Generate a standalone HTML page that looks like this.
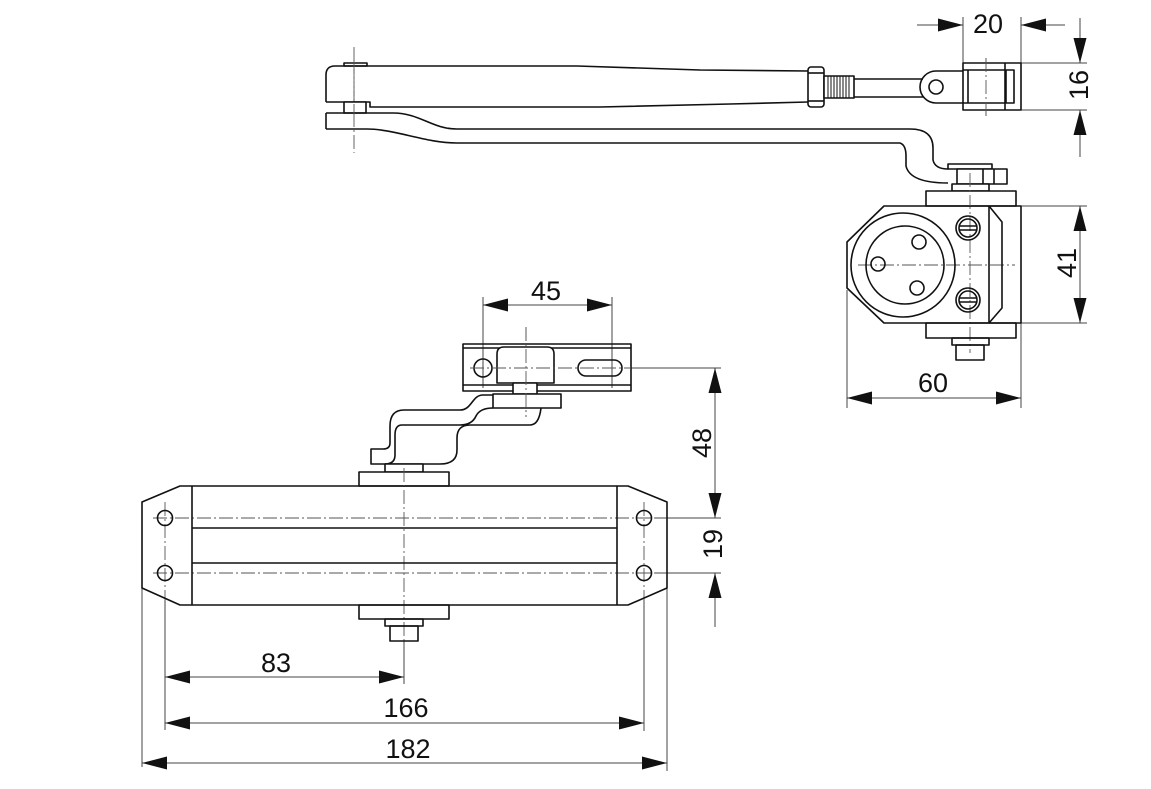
<!DOCTYPE html>
<html><head><meta charset="utf-8"><style>
html,body{margin:0;padding:0;background:#fff;}
svg{display:block;}
text{font-family:"Liberation Sans",Arial,sans-serif;font-size:27px;fill:#111;}
</style></head><body>
<svg width="1151" height="789" viewBox="0 0 1151 789" xmlns="http://www.w3.org/2000/svg">
<rect width="1151" height="789" fill="#fff"/>

<!-- ===== centerlines (dash-dot) ===== -->
<g stroke="#555" stroke-width="0.9" fill="none" stroke-dasharray="14 3 2 3">
  <line x1="354" y1="47" x2="354" y2="153"/>
  <line x1="986" y1="58" x2="986" y2="118"/>
  <line x1="970" y1="173" x2="970" y2="353"/>
  <line x1="858" y1="265" x2="1015" y2="265"/>
  <line x1="526" y1="327" x2="526" y2="417"/>
  <line x1="470" y1="368" x2="631" y2="368"/>
  <line x1="404" y1="468" x2="404" y2="641"/>
  <line x1="153" y1="518" x2="655" y2="518"/>
  <line x1="153" y1="573" x2="655" y2="573"/>
  <line x1="165" y1="502" x2="165" y2="600"/>
  <line x1="644" y1="502" x2="644" y2="600"/>
</g>

<!-- ===== extension & dimension lines ===== -->
<g stroke="#444" stroke-width="1" fill="none">
  <!-- 20 -->
  <line x1="963" y1="17" x2="963" y2="63"/>
  <line x1="1021" y1="17" x2="1021" y2="63"/>
  <line x1="917" y1="25" x2="963" y2="25"/>
  <line x1="1021" y1="25" x2="1065" y2="25"/>
  <!-- 16 -->
  <line x1="1021" y1="63" x2="1087" y2="63"/>
  <line x1="1021" y1="110" x2="1087" y2="110"/>
  <line x1="1080" y1="18" x2="1080" y2="63"/>
  <line x1="1080" y1="110" x2="1080" y2="157"/>
  <!-- 41 -->
  <line x1="1021" y1="206" x2="1087" y2="206"/>
  <line x1="1021" y1="323" x2="1087" y2="323"/>
  <line x1="1080" y1="206" x2="1080" y2="323"/>
  <!-- 60 -->
  <line x1="847" y1="290" x2="847" y2="408"/>
  <line x1="1021" y1="323" x2="1021" y2="408"/>
  <line x1="847" y1="398" x2="1021" y2="398"/>
  <!-- 45 -->
  <line x1="483" y1="297" x2="483" y2="388"/>
  <line x1="612" y1="297" x2="612" y2="388"/>
  <line x1="483" y1="305" x2="612" y2="305"/>
  <!-- 48 / 19 -->
  <line x1="631" y1="368" x2="721" y2="368"/>
  <line x1="715" y1="368" x2="715" y2="518"/>
  <line x1="655" y1="518" x2="721" y2="518"/>
  <line x1="655" y1="573" x2="721" y2="573"/>
  <line x1="715" y1="573" x2="715" y2="627"/>
  <!-- bottom -->
  <line x1="404" y1="641" x2="404" y2="684"/>
  <line x1="165" y1="600" x2="165" y2="730"/>
  <line x1="644" y1="600" x2="644" y2="731"/>
  <line x1="142" y1="588" x2="142" y2="767"/>
  <line x1="667" y1="588" x2="667" y2="771"/>
  <line x1="165" y1="677" x2="404" y2="677"/>
  <line x1="165" y1="723" x2="644" y2="723"/>
  <line x1="142" y1="763" x2="667" y2="763"/>
</g>

<!-- ===== arrowheads ===== -->
<g fill="#111" stroke="none">
  <polygon points="963,25 938,18.5 938,31.5"/>
  <polygon points="1021,25 1046,18.5 1046,31.5"/>
  <polygon points="1080,63 1073.5,38 1086.5,38"/>
  <polygon points="1080,110 1073.5,135 1086.5,135"/>
  <polygon points="1080,206 1073.5,231 1086.5,231"/>
  <polygon points="1080,323 1073.5,298 1086.5,298"/>
  <polygon points="847,398 872,391.5 872,404.5"/>
  <polygon points="1021,398 996,391.5 996,404.5"/>
  <polygon points="483,305 508,298.5 508,311.5"/>
  <polygon points="612,305 587,298.5 587,311.5"/>
  <polygon points="715,368 708.5,393 721.5,393"/>
  <polygon points="715,518 708.5,493 721.5,493"/>
  <polygon points="715,573 708.5,598 721.5,598"/>
  <polygon points="165,677 190,670.5 190,683.5"/>
  <polygon points="404,677 379,670.5 379,683.5"/>
  <polygon points="165,723 190,716.5 190,729.5"/>
  <polygon points="644,723 619,716.5 619,729.5"/>
  <polygon points="142,763 167,756.5 167,769.5"/>
  <polygon points="667,763 642,756.5 642,769.5"/>
</g>

<!-- ===== outlines ===== -->
<g stroke="#111" stroke-width="1.6" fill="none" stroke-linejoin="round">
  <!-- upper arm -->
  <rect x="344" y="63" width="23" height="3" fill="#fff"/>
  <path d="M326,102 L326,75 Q326,66 335,66 L577,66 L700,70 L808,71"/>
  <path d="M326,102 L370,102 L370,107 L600,107 L730,104 L808,102"/>
  <rect x="344" y="102" width="22" height="11" fill="#fff"/>
  <!-- lower arm -->
  <path d="M326,113 L326,129"/>
  <path d="M326,113 L393,113 C420,113 432,129 457,129 L910,129 Q933,129 933,148 L933,160 Q935,169 948,169"/>
  <path d="M326,129 L367,129 C395,129 425,143 457,143 L900,143 Q906,145 906,156 L906,166 Q910,183 948,183"/>
  <!-- nut + thread + rod -->
  <rect x="808" y="67" width="16" height="40" rx="3" fill="#fff"/>
  <line x1="808" y1="73" x2="824" y2="73"/>
  <line x1="808" y1="101" x2="824" y2="101"/>
  <rect x="824" y="76" width="30" height="22" fill="#fff"/>
  <g stroke-width="1">
    <line x1="828" y1="76" x2="828" y2="98"/><line x1="831" y1="76" x2="831" y2="98"/>
    <line x1="834" y1="76" x2="834" y2="98"/><line x1="837" y1="76" x2="837" y2="98"/>
    <line x1="840" y1="76" x2="840" y2="98"/><line x1="843" y1="76" x2="843" y2="98"/>
    <line x1="846" y1="76" x2="846" y2="98"/><line x1="849" y1="76" x2="849" y2="98"/>
  </g>
  <line x1="854" y1="79" x2="923" y2="79"/>
  <line x1="854" y1="97" x2="923" y2="97"/>
  <path d="M963,71 L936,71 A16,16 0 0 0 936,103 L963,103"/>
  <circle cx="936" cy="87" r="7"/>
  <!-- clevis -->
  <rect x="963" y="63" width="58" height="47" fill="#fff"/>
  <line x1="963" y1="70" x2="1005" y2="70"/>
  <line x1="963" y1="103" x2="1005" y2="103"/>
  <line x1="968" y1="70" x2="968" y2="103"/>
  <line x1="1005" y1="63" x2="1005" y2="110"/>
  <rect x="1006" y="70" width="8" height="33"/>

  <!-- right body top view -->
  <rect x="948" y="164" width="44" height="5" fill="#fff"/>
  <rect x="957" y="169" width="50" height="15" fill="#fff"/>
  <line x1="983" y1="169" x2="983" y2="184"/>
  <line x1="994" y1="169" x2="994" y2="184"/>
  <rect x="952" y="184" width="37" height="7" fill="#fff"/>
  <rect x="926" y="191" width="90" height="15" fill="#fff"/>
  <polygon points="884,206 1021,206 1021,323 884,323 847,288 847,242"/>
  <line x1="989" y1="206" x2="989" y2="323"/>
  <polyline points="989,206 1002,222 1002,308 989,323"/>
  <circle cx="903" cy="265" r="52"/>
  <circle cx="905" cy="265" r="39"/>
  <circle cx="878" cy="264" r="7"/>
  <circle cx="919" cy="242" r="7"/>
  <circle cx="917" cy="288" r="7"/>
  <circle cx="968" cy="228" r="12"/>
  <circle cx="968" cy="228" r="9"/>
  <line x1="959" y1="226" x2="977" y2="226"/>
  <line x1="959" y1="230" x2="977" y2="230"/>
  <circle cx="968" cy="300" r="12"/>
  <circle cx="968" cy="300" r="9"/>
  <line x1="959" y1="298" x2="977" y2="298"/>
  <line x1="959" y1="302" x2="977" y2="302"/>
  <rect x="926" y="323" width="90" height="15"/>
  <rect x="952" y="338" width="37" height="7"/>
  <rect x="956" y="345" width="28" height="15"/>

  <!-- middle bracket -->
  <rect x="463" y="344" width="168" height="47" fill="none"/>
  <line x1="463" y1="348" x2="631" y2="348"/>
  <line x1="463" y1="385" x2="631" y2="385"/>
  <circle cx="483" cy="368" r="9"/>
  <rect x="578" y="360" width="44" height="16" rx="8"/>
  <path d="M497,383 L497,354 Q497,347 504,347 L547,347 Q554,347 554,354 L554,383 Z" fill="#fff"/>
  <rect x="513" y="383" width="24" height="11" fill="#fff"/>
  <rect x="493" y="394" width="68" height="14" fill="#fff"/>
  <!-- Z arm -->
  <path d="M493,395 L483,395 C472,395 472,410 460,410 L404,410 Q390,410 390,426 L390,443 Q390,449 383,449 L371,449 L371,464 L440,464 Q457,464 457,450 L457,438 Q457,425 470,425 L530,425 Q539,425 541,408"/>
  <path d="M493,408 Q480,408 476,416 Q472,425 460,425 L402,425 Q395,425 395,435 L395,455 Q395,464 385,464"/>

  <!-- main body -->
  <rect x="385" y="464" width="38" height="8" fill="#fff"/>
  <rect x="359" y="472" width="90" height="14" fill="#fff"/>
  <polygon points="180,486 628,486 667,502 667,588 628,605 180,605 142,588 142,502"/>
  <line x1="192" y1="486" x2="192" y2="605"/>
  <line x1="617" y1="486" x2="617" y2="605"/>
  <line x1="192" y1="528" x2="617" y2="528"/>
  <line x1="192" y1="563" x2="617" y2="563"/>
  <circle cx="165" cy="518" r="7.5"/>
  <circle cx="165" cy="573" r="7.5"/>
  <circle cx="644" cy="518" r="7.5"/>
  <circle cx="644" cy="573" r="7.5"/>
  <rect x="359" y="605" width="90" height="14"/>
  <rect x="385" y="619" width="38" height="7"/>
  <rect x="390" y="626" width="28" height="15"/>
</g>

<!-- redraw centerlines over filled parts -->
<g stroke="#555" stroke-width="0.9" fill="none" stroke-dasharray="14 3 2 3">
  <line x1="986" y1="58" x2="986" y2="118"/>
  <line x1="970" y1="173" x2="970" y2="206"/>
  <line x1="526" y1="327" x2="526" y2="417"/>
  <line x1="470" y1="368" x2="631" y2="368"/>
  <line x1="404" y1="468" x2="404" y2="486"/>
  <line x1="354" y1="60" x2="354" y2="115"/>
</g>

<!-- ===== texts ===== -->
<text x="988" y="33" text-anchor="middle">20</text>
<text transform="translate(1088,85) rotate(-90)" text-anchor="middle">16</text>
<text transform="translate(1076,263) rotate(-90)" text-anchor="middle">41</text>
<text x="933" y="392" text-anchor="middle">60</text>
<text x="546" y="300" text-anchor="middle">45</text>
<text transform="translate(711,443) rotate(-90)" text-anchor="middle">48</text>
<text transform="translate(722,544) rotate(-90)" text-anchor="middle">19</text>
<text x="276" y="672" text-anchor="middle">83</text>
<text x="406" y="717" text-anchor="middle">166</text>
<text x="408" y="758" text-anchor="middle">182</text>
</svg>
</body></html>
